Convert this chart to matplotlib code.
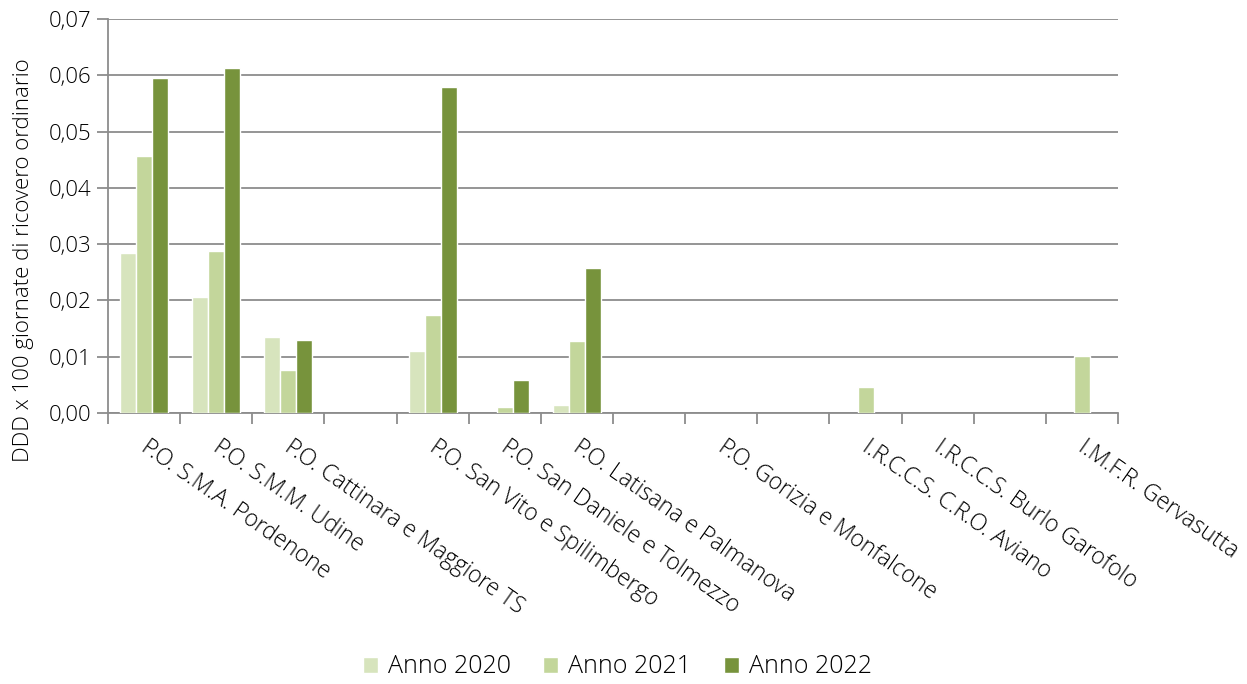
import numpy as np
import matplotlib
matplotlib.use("Agg")
import matplotlib.pyplot as plt
from matplotlib.ticker import FixedLocator

plt.rcParams["font.family"] = ["Open Sans", "DejaVu Sans"]
plt.rcParams["font.weight"] = "light"
plt.rcParams["axes.labelweight"] = "light"

# categories (empty strings are spacer slots on the axis)
categories = [
    "P.O. S.M.A. Pordenone", "P.O. S.M.M. Udine", "P.O. Cattinara e Maggiore TS", "",
    "P.O. San Vito e Spilimbergo", "P.O. San Daniele e Tolmezzo", "P.O. Latisana e Palmanova", "",
    "P.O. Gorizia e Monfalcone", "", "I.R.C.C.S. C.R.O. Aviano", "I.R.C.C.S. Burlo Garofolo", "",
    "I.M.F.R. Gervasutta",
]
anno_2020 = [0.0285, 0.0206, 0.0135, 0, 0.0110, 0, 0.0014, 0, 0, 0, 0, 0, 0, 0]
anno_2021 = [0.0457, 0.0287, 0.0077, 0, 0.0175, 0.0011, 0.0128, 0, 0, 0, 0.0047, 0, 0, 0.0101]
anno_2022 = [0.0596, 0.0613, 0.0129, 0, 0.0580, 0.0059, 0.0258, 0, 0, 0, 0, 0, 0, 0]
series_names = ["Anno 2020", "Anno 2021", "Anno 2022"]
colors = ["#D7E4BD", "#C3D69B", "#77933C"]

grey = "#8C8C8C"
fig = plt.figure(figsize=(12.47, 6.84), dpi=100)
ax = fig.add_axes([0.0866, 0.3962, 0.81, 0.576])

x = np.arange(len(categories)) + 0.5
w = 1 / 4.5
for i, (vals, name, c) in enumerate(zip([anno_2020, anno_2021, anno_2022], series_names, colors)):
    # empty values are left out so no outline shows on the baseline
    heights = np.array(vals, dtype=float)
    heights[heights == 0] = np.nan
    ax.bar(x + (i - 1) * w, heights, width=w, color=c, edgecolor="white", linewidth=1.0,
           label=name, zorder=3)

ax.set_xlim(0, len(categories))
ax.set_ylim(0, 0.07)
yt = np.arange(0, 0.0701, 0.01)
ax.set_yticks(yt)
ax.set_yticklabels([f"{v:.2f}".replace(".", ",") for v in yt], fontsize=16)
ax.yaxis.grid(True, color=grey, linewidth=1.3, zorder=0)
ax.set_axisbelow(True)

# boundaries carry tick marks, centres carry the names
ax.xaxis.set_major_locator(FixedLocator(np.arange(len(categories) + 1)))
ax.set_xticklabels([])
ax.xaxis.set_minor_locator(FixedLocator(x + 0.08))
ax.set_xticklabels(categories, minor=True, rotation=-35, ha="left", va="top",
                   rotation_mode="anchor", fontsize=16.5)
ax.tick_params(axis="x", which="minor", length=0, pad=16)
ax.tick_params(axis="both", which="major", color=grey, width=1.3, length=8)
ax.tick_params(axis="y", pad=4)

for s in ["top", "right"]:
    ax.spines[s].set_visible(False)
for s in ["left", "bottom"]:
    ax.spines[s].set_color(grey)
    ax.spines[s].set_linewidth(1.3)

ax.set_ylabel("DDD x 100 giornate di ricovero ordinario", fontsize=16)
ax.yaxis.set_label_coords(-0.073, 0.388)

fig.legend(loc="center", bbox_to_anchor=(0.495, 0.025), ncol=3, frameon=False, fontsize=18,
           handlelength=0.6, handleheight=0.6, handletextpad=0.4, columnspacing=1.3)

fig.savefig("out.png", dpi=100)
